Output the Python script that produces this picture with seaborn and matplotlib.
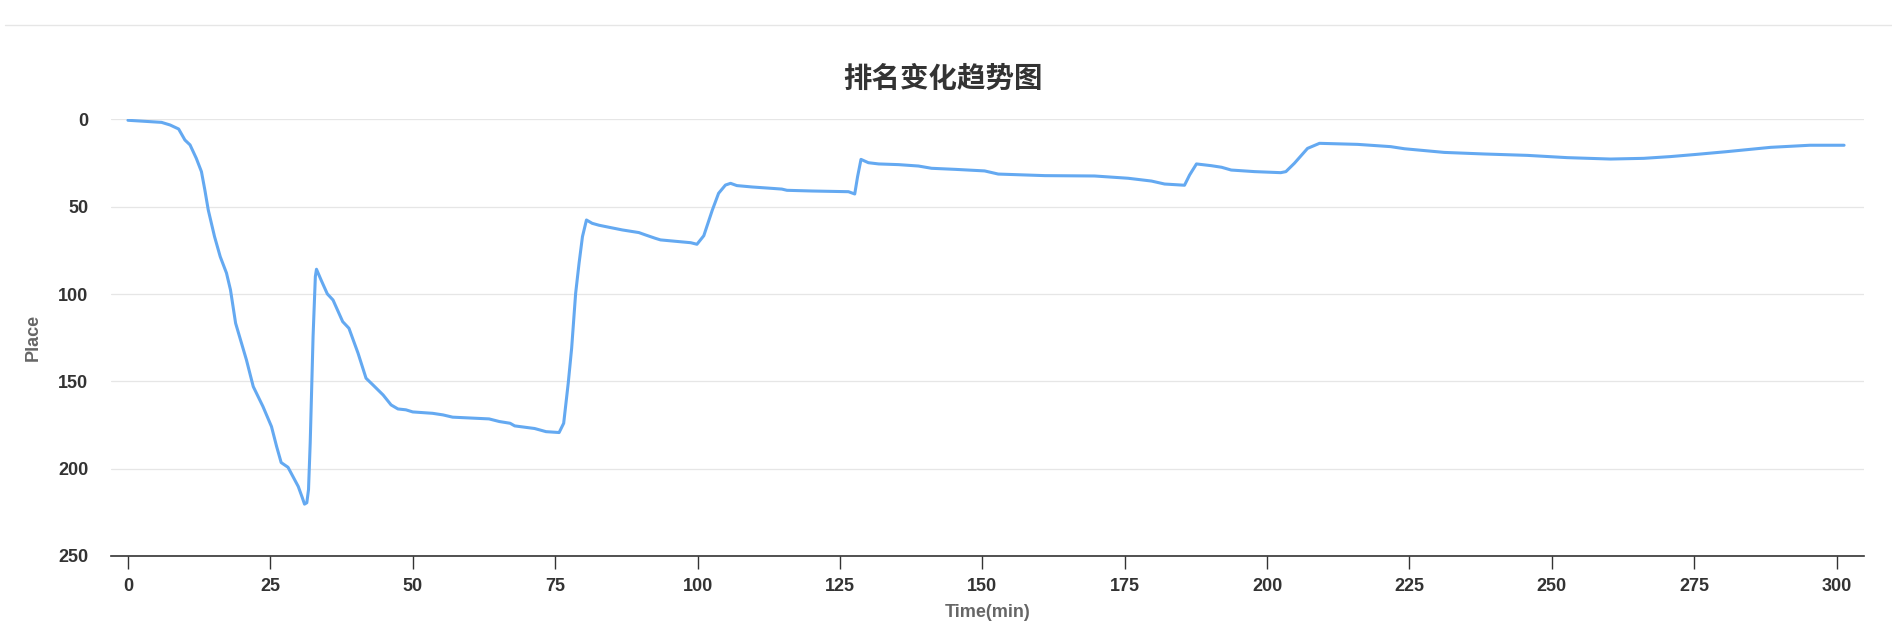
import matplotlib
matplotlib.use("Agg")
import matplotlib.pyplot as plt
import seaborn as sns
import pandas as pd
from matplotlib.lines import Line2D

# ---- data ----
time_min = [0, 5.9, 7.4, 8.9, 10.0, 10.9, 12.0, 12.9, 13.5, 14.1, 15.2, 16.2, 17.3, 18.0, 18.9,
            20.8, 22.0, 23.7, 25.2, 26.1, 26.9, 28.1, 29.9, 30.6, 31.0, 31.4, 31.7, 32.0, 32.5, 32.9, 33.1,
            33.9, 35.0, 36.0, 37.7, 38.8, 40.4, 41.8, 43.0, 44.8, 46.2, 47.4, 48.8, 50.0, 53.5,
            55.3, 57.0, 63.4, 65.2, 67.1, 67.9, 71.4, 73.4, 75.7, 76.5, 77.3, 77.9, 78.6, 79.2,
            79.8, 80.5, 81.5, 82.7, 84.5, 86.8, 89.7, 90.9, 92.6, 93.5, 96.8, 98.8, 99.9, 101.1,
            102.6, 103.7, 104.9, 105.8, 106.9, 109.6, 113.1, 114.8, 115.7, 120.1, 126.5, 127.6,
            128.1, 128.7, 130.0, 131.8, 135.3, 138.8, 141.1, 145.2, 150.4, 152.8, 161.0, 169.7,
            175.6, 179.7, 182.0, 185.5, 186.4, 187.6, 190.2, 192.0, 193.7, 197.8, 202.4, 203.3,
            204.8, 207.1, 209.2, 215.9, 221.7, 224.1, 231.1, 238.1, 245.7, 252.7, 260.3, 266.1,
            270.8, 275.5, 280.6, 288.4, 295.3, 301.3]
place = [0.5, 1.7, 3.2, 5.5, 11.8, 14.6, 22.3, 29.9, 40.4, 51.9, 67.1, 78.6, 88.0, 97.6, 116.7,
         137.7, 153.0, 164.4, 175.9, 187.3, 196.5, 199.2, 210.2, 216.5, 220.3, 219.5, 212.0, 185.0, 124.4, 90.0, 85.8,
         91.9, 99.9, 103.4, 115.8, 119.6, 133.9, 148.2, 152.0, 157.8, 163.5, 165.8, 166.3, 167.5, 168.3,
         169.2, 170.5, 171.5, 173.0, 174.0, 175.5, 177.0, 178.8, 179.3, 174.0, 151.0, 131.0, 99.6, 82.4,
         67.1, 57.6, 59.5, 60.6, 61.8, 63.3, 64.8, 66.2, 68.1, 69.0, 70.0, 70.6, 71.5, 66.6,
         51.9, 42.3, 37.6, 36.6, 37.9, 38.7, 39.5, 39.9, 40.6, 41.0, 41.4, 42.7,
         32.8, 22.9, 24.8, 25.5, 25.9, 26.7, 28.0, 28.6, 29.5, 31.3, 32.2, 32.4,
         33.7, 35.3, 37.0, 37.7, 31.8, 25.5, 26.5, 27.4, 29.0, 29.9, 30.5, 29.9,
         25.1, 16.6, 13.7, 14.3, 15.6, 16.8, 18.9, 19.8, 20.6, 21.9, 22.7, 22.3,
         21.3, 20.0, 18.5, 16.0, 14.8, 14.8]
x_ticks = [0, 25, 50, 75, 100, 125, 150, 175, 200, 225, 250, 275, 300]
y_ticks = [0, 50, 100, 150, 200, 250]
title_text = "排名变化趋势图"
x_label = "Time(min)"
y_label = "Place"

df = pd.DataFrame({"Time(min)": time_min, "Place": place})

sns.set_theme(style="white")
plt.rcParams["font.family"] = ["Liberation Sans", "Noto Sans CJK SC", "DejaVu Sans"]

W, H = 1892, 637
fig = plt.figure(figsize=(W / 100, H / 100), dpi=100)
fig.patch.set_facecolor("white")

ax_left, ax_right = 110.7 / W, 1864 / W
ax_bottom, ax_top = 1 - 556 / H, 1 - 119.4 / H
ax = fig.add_axes([ax_left, ax_bottom, ax_right - ax_left, ax_top - ax_bottom])

sns.lineplot(data=df, x="Time(min)", y="Place", ax=ax, color="#64a9f1",
             linewidth=2.2, sort=False, estimator=None, solid_joinstyle="round",
             solid_capstyle="round")

ax.set_xlim(-3.03, 304.8)
ax.set_ylim(250, 0)
ax.set_xticks(x_ticks)
ax.set_yticks(y_ticks)
ax.set_xticklabels([str(v) for v in x_ticks])
ax.set_yticklabels([str(v) for v in y_ticks])

for s in ["top", "right", "left"]:
    ax.spines[s].set_visible(False)
ax.spines["bottom"].set_color("#333333")
ax.spines["bottom"].set_linewidth(1.2)
ax.spines["bottom"].set_zorder(3)

ax.yaxis.grid(True, color="#e6e6e6", linewidth=0.9)
ax.xaxis.grid(False)
ax.set_axisbelow(True)

ax.tick_params(axis="x", direction="out", length=9.5, width=1.0, color="#333333",
               pad=6.5, labelsize=13, labelcolor="#333333", bottom=True)
ax.tick_params(axis="y", length=0, pad=16, labelsize=13, labelcolor="#333333")
for lab in ax.get_xticklabels() + ax.get_yticklabels():
    lab.set_fontweight("bold")

ax.set_xlabel(x_label, fontsize=13, fontweight="bold", color="#666666", labelpad=6)
ax.set_ylabel(y_label, fontsize=13, fontweight="bold", color="#666666", labelpad=12)

fig.text(943 / W, 1 - 79 / H, title_text, ha="center", va="center", fontsize=20.5,
         fontweight="bold", color="#333333",
         family=["Noto Sans CJK SC", "DejaVu Sans"])

# top separator line of the page
fig.add_artist(Line2D([5 / W, 1.0], [1 - 25 / H, 1 - 25 / H], color="#e6e6e6",
                      linewidth=1.0, transform=fig.transFigure))

fig.savefig("out.png", dpi=100, facecolor="white")
